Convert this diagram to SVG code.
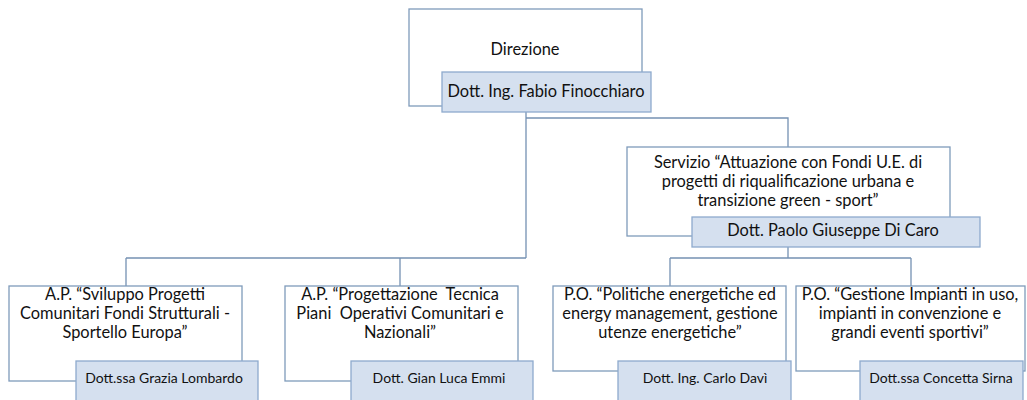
<svg xmlns="http://www.w3.org/2000/svg" width="1027" height="400" viewBox="0 0 1027 400">
<style>
.box{fill:#ffffff;stroke:#7f9bbb;stroke-width:1.3}
.name{fill:#d5e0ef;stroke:#8eaacd;stroke-width:1.3}
.t{font-family:Lato,"Open Sans",sans-serif;font-size:16.4px;fill:#111111;text-anchor:middle;white-space:pre}
.n{font-family:Lato,"Open Sans",sans-serif;font-size:14px;fill:#111111;text-anchor:middle}
.c{fill:none;stroke:#7591b3;stroke-width:1.3}
</style>
<rect width="1027" height="400" fill="#ffffff"/>
<g id="connectors">
<path class="c" d="M526 112 V258 M526 118 H788 V147 M126 258 H526 M126 258 V286 M400 258 V286 M788 247 V258 M670 258 H911 M670 258 V286 M911 258 V286"/>
</g>
<g id="direzione">
<rect class="box" x="409" y="9" width="233" height="97"/>
<text class="t" x="525" y="55">Direzione</text>
<rect class="name" x="442" y="72" width="209" height="40"/>
<text class="t" x="546" y="97">Dott. Ing. Fabio Finocchiaro</text>
</g>
<g id="servizio">
<rect class="box" x="627" y="147" width="323" height="89"/>
<text class="t" x="788" y="168">Servizio “Attuazione con Fondi U.E. di</text>
<text class="t" x="788" y="187">progetti di riqualificazione urbana e</text>
<text class="t" x="788" y="206">transizione green - sport”</text>
<rect class="name" x="692" y="217" width="288" height="30"/>
<text class="t" x="833" y="236">Dott. Paolo Giuseppe Di Caro</text>
</g>
<g id="ap1">
<rect class="box" x="9" y="286" width="233" height="95"/>
<text class="t" x="125" y="300">A.P. “Sviluppo Progetti</text>
<text class="t" x="125" y="319">Comunitari Fondi Strutturali -</text>
<text class="t" x="125" y="338">Sportello Europa”</text>
<rect class="name" x="76" y="361" width="182" height="45"/>
<text class="n" x="164" y="383">Dott.ssa Grazia Lombardo</text>
</g>
<g id="ap2">
<rect class="box" x="285" y="286" width="233" height="95"/>
<text class="t" x="400" y="300" xml:space="preserve">A.P. “Progettazione  Tecnica</text>
<text class="t" x="400" y="319" xml:space="preserve">Piani  Operativi Comunitari e</text>
<text class="t" x="400" y="338">Nazionali”</text>
<rect class="name" x="351" y="361" width="182" height="45"/>
<text class="n" x="439" y="383">Dott. Gian Luca Emmi</text>
</g>
<g id="po1">
<rect class="box" x="553" y="286" width="233" height="85"/>
<text class="t" x="670" y="300">P.O. “Politiche energetiche ed</text>
<text class="t" x="670" y="319">energy management, gestione</text>
<text class="t" x="670" y="338">utenze energetiche”</text>
<rect class="name" x="618" y="361" width="173" height="45"/>
<text class="n" x="705" y="383">Dott. Ing. Carlo Davì</text>
</g>
<g id="po2">
<rect class="box" x="796" y="286" width="229" height="85"/>
<text class="t" x="910" y="300">P.O. “Gestione Impianti in uso,</text>
<text class="t" x="910" y="319">impianti in convenzione e</text>
<text class="t" x="910" y="338">grandi eventi sportivi”</text>
<rect class="name" x="860" y="361" width="163" height="45"/>
<text class="n" x="941" y="383">Dott.ssa Concetta Sirna</text>
</g>
</svg>
